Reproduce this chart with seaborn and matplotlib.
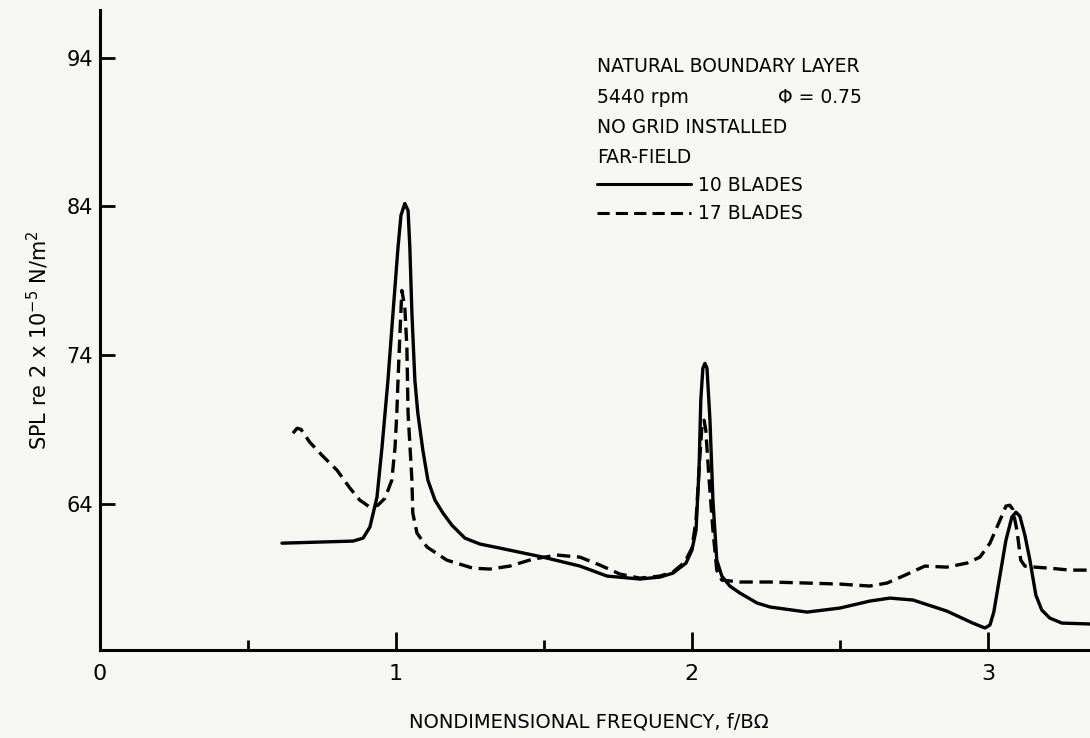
import numpy as np
import pandas as pd
import matplotlib.pyplot as plt
import seaborn as sns

# Curves: nondimensional frequency f/BΩ vs SPL (dB)
freq_10 = [0.615, 0.855, 0.889, 0.912, 0.936, 0.953, 0.973, 0.990, 1.007, 1.017,
           1.030, 1.041, 1.047, 1.054, 1.064, 1.074, 1.091, 1.108, 1.132, 1.159,
           1.189, 1.233, 1.284, 1.351, 1.497, 1.622, 1.713, 1.824, 1.892, 1.936,
           1.980, 2.000, 2.014, 2.024, 2.030, 2.037, 2.044, 2.051, 2.061, 2.071,
           2.084, 2.101, 2.128, 2.162, 2.220, 2.264, 2.389, 2.500, 2.601, 2.669,
           2.747, 2.861, 2.949, 2.990, 3.007, 3.020, 3.041, 3.061, 3.081, 3.095,
           3.108, 3.125, 3.142, 3.162, 3.182, 3.209, 3.250, 3.345]
spl_10 = [61.38, 61.52, 61.72, 62.46, 64.47, 67.83, 72.32, 76.82, 81.25, 83.40,
          84.20, 83.73, 81.25, 76.82, 72.32, 70.11, 67.62, 65.61, 64.27, 63.40,
          62.59, 61.72, 61.32, 61.05, 60.44, 59.84, 59.17, 58.97, 59.10, 59.37,
          60.04, 60.91, 62.26, 66.28, 70.98, 73.13, 73.46, 73.13, 69.64, 64.27,
          60.24, 59.17, 58.50, 58.03, 57.36, 57.09, 56.75, 57.02, 57.49, 57.69,
          57.56, 56.82, 56.01, 55.68, 55.88, 56.75, 59.23, 61.58, 63.13, 63.46,
          63.19, 61.92, 60.24, 57.89, 56.89, 56.35, 56.01, 55.95]

freq_17 = [0.652, 0.666, 0.679, 0.709, 0.750, 0.801, 0.845, 0.878, 0.912, 0.939,
           0.963, 0.986, 0.997, 1.003, 1.007, 1.014, 1.020, 1.030, 1.037, 1.041,
           1.054, 1.057, 1.071, 1.105, 1.172, 1.260, 1.318, 1.385, 1.463, 1.544,
           1.622, 1.689, 1.757, 1.824, 1.892, 1.936, 1.976, 2.000, 2.014, 2.024,
           2.034, 2.041, 2.047, 2.057, 2.071, 2.084, 2.101, 2.162, 2.264, 2.389,
           2.500, 2.601, 2.659, 2.720, 2.787, 2.861, 2.929, 2.973, 3.007, 3.041,
           3.061, 3.074, 3.084, 3.098, 3.111, 3.125, 3.159, 3.209, 3.277, 3.345]
spl_17 = [68.77, 69.10, 69.03, 68.16, 67.29, 66.28, 65.07, 64.27, 63.80, 63.93,
          64.40, 65.61, 67.83, 70.11, 72.32, 75.68, 78.36, 77.23, 74.54, 70.11,
          65.61, 63.40, 62.06, 61.12, 60.24, 59.70, 59.64, 59.84, 60.31, 60.58,
          60.44, 59.91, 59.30, 59.03, 59.17, 59.44, 60.11, 61.05, 62.93, 66.28,
          69.30, 69.64, 68.97, 65.95, 62.26, 59.57, 58.90, 58.77, 58.77, 58.70,
          58.63, 58.50, 58.70, 59.23, 59.84, 59.77, 60.04, 60.44, 61.38, 62.93,
          63.87, 63.93, 63.66, 62.26, 60.24, 59.84, 59.77, 59.70, 59.57, 59.57]

y_ticks = [64, 74, 84, 94]
x_major = [0, 1, 2, 3]
x_minor = [0.5, 1.5, 2.5]
header = ["NATURAL BOUNDARY LAYER", "5440 rpm", "NO GRID INSTALLED", "FAR-FIELD"]
phi_text = "Φ = 0.75"

df = pd.concat([
    pd.DataFrame({'f': freq_10, 'spl': spl_10, 'blades': '10 BLADES'}),
    pd.DataFrame({'f': freq_17, 'spl': spl_17, 'blades': '17 BLADES'}),
])

sns.set_style('ticks', rc={'text.color': 'black', 'axes.labelcolor': 'black',
                           'xtick.color': 'black', 'ytick.color': 'black',
                           'axes.edgecolor': 'black'})
plt.rcParams['font.family'] = ['DejaVu Sans']
bg = '#f6f6f3'

fig = plt.figure(figsize=(10.9, 7.38), dpi=100, facecolor=bg)
ax = fig.add_axes([0.0917, 0.1192, 0.9083, 0.8672], facecolor=bg)

sns.lineplot(data=df, x='f', y='spl', style='blades',
             dashes={'10 BLADES': '', '17 BLADES': (4, 2)},
             color='black', lw=2.4, sort=False, estimator=None, ax=ax)

ax.set_xlim(0, 3.345)
ax.set_ylim(54.2, 97.2)
sns.despine(ax=ax)
ax.spines['left'].set_linewidth(2.2)
ax.spines['bottom'].set_linewidth(2.2)

ax.set_yticks(y_ticks)
ax.set_xticks(x_major)
ax.set_xticks(x_minor, minor=True)
ax.tick_params(axis='y', direction='in', length=11, width=2, pad=5, labelsize=15)
ax.tick_params(axis='x', which='major', direction='in', length=13, width=2, pad=10, labelsize=16)
ax.tick_params(axis='x', which='minor', direction='in', length=7, width=2)

ax.set_xlabel('NONDIMENSIONAL FREQUENCY, f/BΩ', fontsize=14)
ax.xaxis.label.set_va('center')
ax.xaxis.set_label_coords(0.494, -0.1125)
ax.set_ylabel('SPL re 2 x 10$^{-5}$ N/m$^2$', fontsize=15)
ax.yaxis.label.set_va('center')
ax.yaxis.set_label_coords(-0.063, 0.484)

# header text of the key
for txt, yy in zip(header, [0.911, 0.864, 0.816, 0.770]):
    ax.text(0.502, yy, txt, transform=ax.transAxes, fontsize=13.5, va='center', ha='left')
ax.text(0.685, 0.864, phi_text, transform=ax.transAxes, fontsize=13.5, va='center', ha='left')

handles, labels = ax.get_legend_handles_labels()
pairs = [(h, l) for h, l in zip(handles, labels) if 'BLADES' in l]
leg = ax.legend([p[0] for p in pairs], [p[1] for p in pairs],
                loc='upper left', bbox_to_anchor=(0.502, 0.741), frameon=False,
                fontsize=13.5, handlelength=5.0, handletextpad=0.4,
                labelspacing=0.5, borderpad=0, borderaxespad=0)
for h in leg.get_lines():
    h.set_linewidth(2.2)
    h.set_color('black')

fig.savefig('out.png', dpi=100, facecolor=bg)
